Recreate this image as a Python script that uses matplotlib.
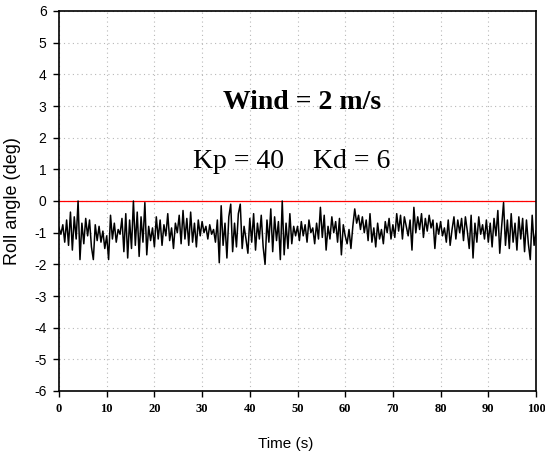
import numpy as np
import matplotlib
matplotlib.use("Agg")
import matplotlib.pyplot as plt

# roll angle, 0.4 s step, one list per 10 s
seg0 = [-0.85, -1.05, -0.75, -1.3, -0.6, -1.4, -0.35, -1.55, -0.5, -1.2, 0.0, -1.85, -0.7,
        -1.35, -0.55, -1.1, -0.6, -1.45, -1.85, -0.75, -1.25, -0.8, -1.3, -0.95, -1.5]
seg1 = [-1.1, -1.85, -0.45, -1.2, -0.7, -1.3, -0.9, -1.05, -0.55, -1.6, -0.4, -1.8, -0.6,
        -1.5, 0.0, -1.4, -0.35, -1.75, -0.5, -1.3, -0.05, -1.7, -0.8, -1.25, -0.85]
seg2 = [-1.45, -0.5, -1.2, -0.6, -1.4, -0.75, -1.1, -0.4, -1.25, -0.85, -1.5, -0.7, -1.0,
        -0.45, -1.35, -0.3, -1.2, -0.55, -1.4, -0.35, -1.3, -0.7, -1.45, -0.6, -1.1]
seg3 = [-0.65, -1.0, -0.8, -1.2, -0.75, -1.05, -0.9, -1.3, -0.6, -1.95, -0.15, -1.4, -0.7,
        -1.8, -0.5, -0.1, -1.6, -0.7, -1.45, -0.4, -0.1, -1.5, -0.8, -1.2, -1.65]
seg4 = [-0.55, -1.3, -0.4, -1.55, -0.7, -1.2, -0.45, -1.45, -2.0, -0.6, -1.3, -0.25, -1.6,
        -0.5, -1.25, -0.65, -1.85, 0.0, -1.7, -0.7, -1.5, -0.4, -1.35, -0.8, -1.1]
seg5 = [-0.8, -1.25, -0.65, -1.1, -0.75, -1.3, -0.6, -1.0, -0.85, -1.35, -0.7, -1.2, -0.2,
        -1.15, -0.45, -1.55, -0.8, -1.2, -0.5, -1.0, -0.65, -1.3, -0.55, -1.7, -0.75]
seg6 = [-1.1, -1.35, -0.9, -1.5, -0.8, -0.25, -0.7, -0.45, -0.9, -0.5, -1.0, -0.6, -1.25,
        -0.4, -1.3, -0.85, -1.45, -0.7, -1.2, -0.9, -1.35, -0.65, -1.0, -0.55, -1.2]
seg7 = [-0.75, -1.15, -0.4, -0.95, -0.45, -1.2, -0.5, -0.8, -1.1, -0.6, -1.55, -0.2, -1.0,
        -0.5, -0.9, -0.4, -1.15, -0.55, -0.95, -0.45, -0.85, -0.6, -1.5, -0.7, -1.05]
seg8 = [-0.65, -1.1, -0.85, -1.3, -0.6, -1.4, -0.9, -0.5, -1.2, -0.6, -1.0, -0.55, -1.25,
        -0.5, -0.95, -1.5, -0.45, -1.8, -0.7, -1.3, -0.5, -1.05, -0.75, -1.2, -0.6]
seg9 = [-1.3, -0.7, -1.45, -0.55, -1.1, -0.3, -1.65, -0.8, -0.05, -1.4, -0.6, -1.5, -0.4,
        -1.3, -0.7, -1.55, -0.5, -1.2, -0.55, -1.6, -0.6, -1.35, -1.85, -0.45, -1.4, -0.95]

roll = np.array(seg0 + seg1 + seg2 + seg3 + seg4 + seg5 + seg6 + seg7 + seg8 + seg9)
time = np.arange(len(roll)) * 0.4

xticks = np.arange(0, 101, 10)
yticks = np.arange(-6, 7, 1)

fig = plt.figure(figsize=(5.45, 4.59), dpi=100)
ax = fig.add_axes([59 / 545, 68 / 459, 477 / 545, 380 / 459])

ax.plot(time, roll, color="black", lw=1.1, zorder=3)
ax.axhline(0, color="#ff0000", lw=0.9, zorder=2)

ax.set_xlim(0, 100)
ax.set_ylim(-6, 6)
ax.set_xticks(xticks)
ax.set_yticks(yticks)
ax.set_xticklabels([str(v) for v in xticks], family="Liberation Serif",
                   fontweight="bold", fontsize=9)
ax.set_yticklabels([str(v) for v in yticks], family="Liberation Sans", fontsize=10)
ax.tick_params(direction="out", length=4, width=1)
ax.tick_params(axis="x", pad=5)
ax.tick_params(axis="y", pad=5)
ax.grid(True, ls=(0, (1, 3)), color="#b8b8b8", lw=0.8)
for s in ax.spines.values():
    s.set_linewidth(1.2)

ax.set_xlabel("Time (s)", family="Liberation Sans", fontsize=11, labelpad=18)
ax.xaxis.set_label_coords(0.475, -0.12)
ax.set_ylabel("Roll angle (deg)", family="Liberation Sans", fontsize=13)
ax.yaxis.set_label_coords(-0.08, 0.5)

ax.text(51, 3.1, "Wind = 2 m/s", family="Liberation Serif", fontweight="bold",
        fontsize=20, ha="center", va="center")
ax.text(28.1, 1.25, "Kp = 40", family="Liberation Serif", fontsize=20,
        ha="left", va="center")
ax.text(53.2, 1.25, "Kd = 6", family="Liberation Serif", fontsize=20,
        ha="left", va="center")

plt.savefig("out.png", dpi=100)
